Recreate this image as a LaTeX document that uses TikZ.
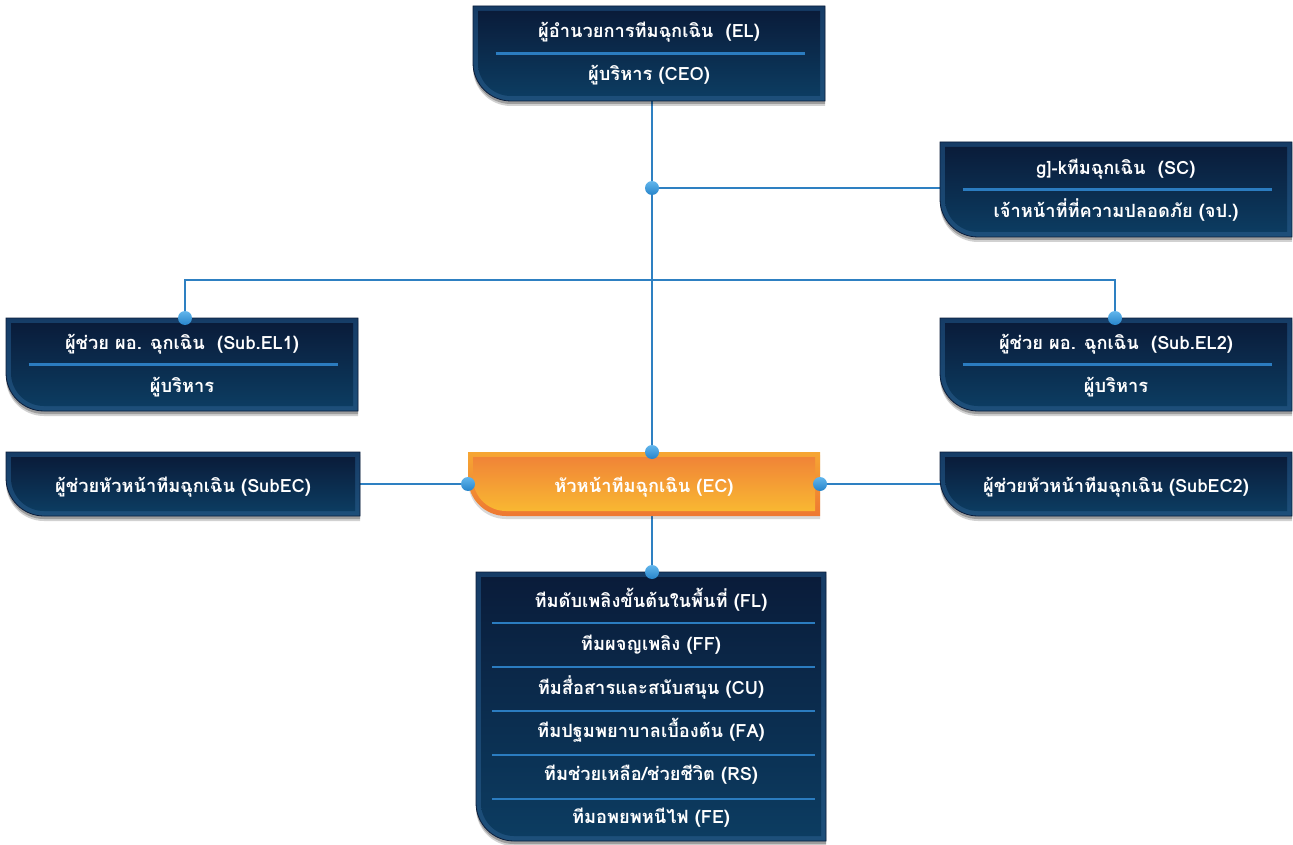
\documentclass[tikz,border=0pt]{standalone}
\usepackage{fontspec}
\newfontfamily\thaifont[Script=Thai]{Loma}
\usetikzlibrary{calc,fit}

\definecolor{navyTop}{HTML}{0A1C3A}
\definecolor{navyBot}{HTML}{0C3C61}
\definecolor{rimTop}{HTML}{163C66}
\definecolor{rimBot}{HTML}{1D4F7A}
\definecolor{oraRimTop}{HTML}{F6A633}
\definecolor{oraRimBot}{HTML}{EE7832}
\definecolor{oraTop}{HTML}{F08437}
\definecolor{oraBot}{HTML}{F9B832}
\definecolor{link}{HTML}{2E80C2}
\definecolor{rule}{HTML}{2B7CC0}
\definecolor{dotTop}{HTML}{62B6EC}
\definecolor{dotBot}{HTML}{2784CA}

% panel outline: node, inset (px), corner radius (px), vertical offset (px)
\newcommand\panelpath[4]{%
  ([shift={(#2,#2+#4)}]#1.north west) -- ([shift={(-#2,#2+#4)}]#1.north east)
  -- ([shift={(-#2,-#2+#4)}]#1.south east) -- ([shift={(#2+#3,-#2+#4)}]#1.south west)
  arc[start angle=270,end angle=180,radius=#3*0.75pt] -- cycle}

\newcommand\navypanel[1]{%
  \fill[black,opacity=.18] \panelpath{#1}{0}{38}{5};
  \fill[black,opacity=.25] \panelpath{#1}{0}{38}{3};
  \shade[top color=rimTop,bottom color=rimBot] \panelpath{#1}{0}{38}{0};
  \draw[navyTop,line width=.6pt] \panelpath{#1}{0}{38}{0};
  \shade[top color=navyTop,bottom color=navyBot] \panelpath{#1}{5}{33}{0};
}

\tikzset{
  x=0.75pt, y=-0.75pt,
  frame/.style={inner sep=0pt, outer sep=0pt},
  label/.style={text=white, font=\thaifont\bfseries\fontsize{13.7}{15}\selectfont,
    text height=10.5pt, text depth=3pt, inner sep=0pt},
  link/.style={draw=link, line width=2pt},
  divider/.style={draw=rule, line width=1.6pt},
  joint/.style={circle, inner sep=0pt, minimum size=10.5pt, top color=dotTop, bottom color=dotBot},
}

\begin{document}
\begin{tikzpicture}
\useasboundingbox (0,0) rectangle (1293,845);

% frames of the boxes
\coordinate (el-a) at (473,6);    \coordinate (el-b) at (825,101);
\coordinate (sc-a) at (940,142);  \coordinate (sc-b) at (1292,237);
\coordinate (s1-a) at (6,318);    \coordinate (s1-b) at (358,411);
\coordinate (s2-a) at (940,318);  \coordinate (s2-b) at (1292,411);
\coordinate (ea-a) at (6,452);    \coordinate (ea-b) at (360,516);
\coordinate (ec-a) at (468,452);  \coordinate (ec-b) at (820,516);
\coordinate (eb-a) at (940,452);  \coordinate (eb-b) at (1292,516);
\coordinate (tm-a) at (476,572);  \coordinate (tm-b) at (826,841);

\node[frame, fit=(el-a)(el-b)] (el) {};
\node[frame, fit=(sc-a)(sc-b)] (sc) {};
\node[frame, fit=(s1-a)(s1-b)] (sel1) {};
\node[frame, fit=(s2-a)(s2-b)] (sel2) {};
\node[frame, fit=(ea-a)(ea-b)] (subec) {};
\node[frame, fit=(ec-a)(ec-b)] (ec) {};
\node[frame, fit=(eb-a)(eb-b)] (subec2) {};
\node[frame, fit=(tm-a)(tm-b)] (teams) {};

% connectors
\coordinate (spine) at (652,188);
\coordinate (b1) at (185,280);
\coordinate (b2) at (1115,280);
\draw[link] (el.south -| spine) -- (ec.north -| spine);
\draw[link] (spine) -- (spine -| sc.west);
\draw[link] (sel1.north -| b1) -- (b1) -- (b2) -- (b2 |- sel2.north);
\draw[link] (subec.east) -- (ec.west);
\draw[link] (ec.east) -- (subec2.west);
\draw[link] (ec.south -| spine) -- (teams.north -| spine);

% boxes
\navypanel{el}
\navypanel{sc}
\navypanel{sel1}
\navypanel{sel2}
\navypanel{subec}
\navypanel{subec2}
\navypanel{teams}
\fill[black,opacity=.15] \panelpath{ec}{0}{38}{3};
\shade[top color=oraRimTop,bottom color=oraRimBot] \panelpath{ec}{0}{38}{0};
\shade[top color=oraTop,bottom color=oraBot] \panelpath{ec}{5}{33}{0};

% dividers
\foreach \n in {el,sc,sel1,sel2}
  \draw[divider] ([xshift=17]\n.west) -- ([xshift=-15]\n.east);
\foreach \y in {623,667,711,755,799}
  \draw[divider] (492,\y) -- (815,\y);

% texts
\node[label] (el1) at (649,33) {ผู้อำนวยการทีมฉุกเฉิน\ \ (EL)};
\node[label] (el2) at (649,76) {ผู้บริหาร (CEO)};
\node[label] (sc1) at (1116,170) {g]-kทีมฉุกเฉิน\ \ (SC)};
\node[label] (sc2) at (1116,213) {เจ้าหน้าที่ที่ความปลอดภัย (จป.)};
\node[label] (s11) at (182,344) {ผู้ช่วย ผอ. ฉุกเฉิน\ \ (Sub.EL1)};
\node[label] (s12) at (182,387) {ผู้บริหาร};
\node[label] (s21) at (1116,344) {ผู้ช่วย ผอ. ฉุกเฉิน\ \ (Sub.EL2)};
\node[label] (s22) at (1116,387) {ผู้บริหาร};
\node[label] (ea1) at (183,487) {ผู้ช่วยหัวหน้าทีมฉุกเฉิน (SubEC)};
\node[label] (ec1) at (644,487) {หัวหน้าทีมฉุกเฉิน (EC)};
\node[label] (eb1) at (1116,487) {ผู้ช่วยหัวหน้าทีมฉุกเฉิน (SubEC2)};
\node[label] (t1) at (651,602) {ทีมดับเพลิงขั้นต้นในพื้นที่ (FL)};
\node[label] (t2) at (651,645) {ทีมผจญเพลิง (FF)};
\node[label] (t3) at (651,689) {ทีมสื่อสารและสนับสนุน (CU)};
\node[label] (t4) at (651,732) {ทีมปฐมพยาบาลเบื้องต้น (FA)};
\node[label] (t5) at (651,775) {ทีมช่วยเหลือ/ช่วยชีวิต (RS)};
\node[label] (t6) at (651,818) {ทีมอพยพหนีไฟ (FE)};

% joints
\node[joint] (j1) at (spine) {};
\node[joint] (j2) at (sel1.north -| b1) {};
\node[joint] (j3) at (b2 |- sel2.north) {};
\node[joint] (j4) at (ec.north -| spine) {};
\node[joint] (j5) at (ec.west) {};
\node[joint] (j6) at (ec.east) {};
\node[joint] (j7) at (teams.north -| spine) {};
\end{tikzpicture}
\end{document}
